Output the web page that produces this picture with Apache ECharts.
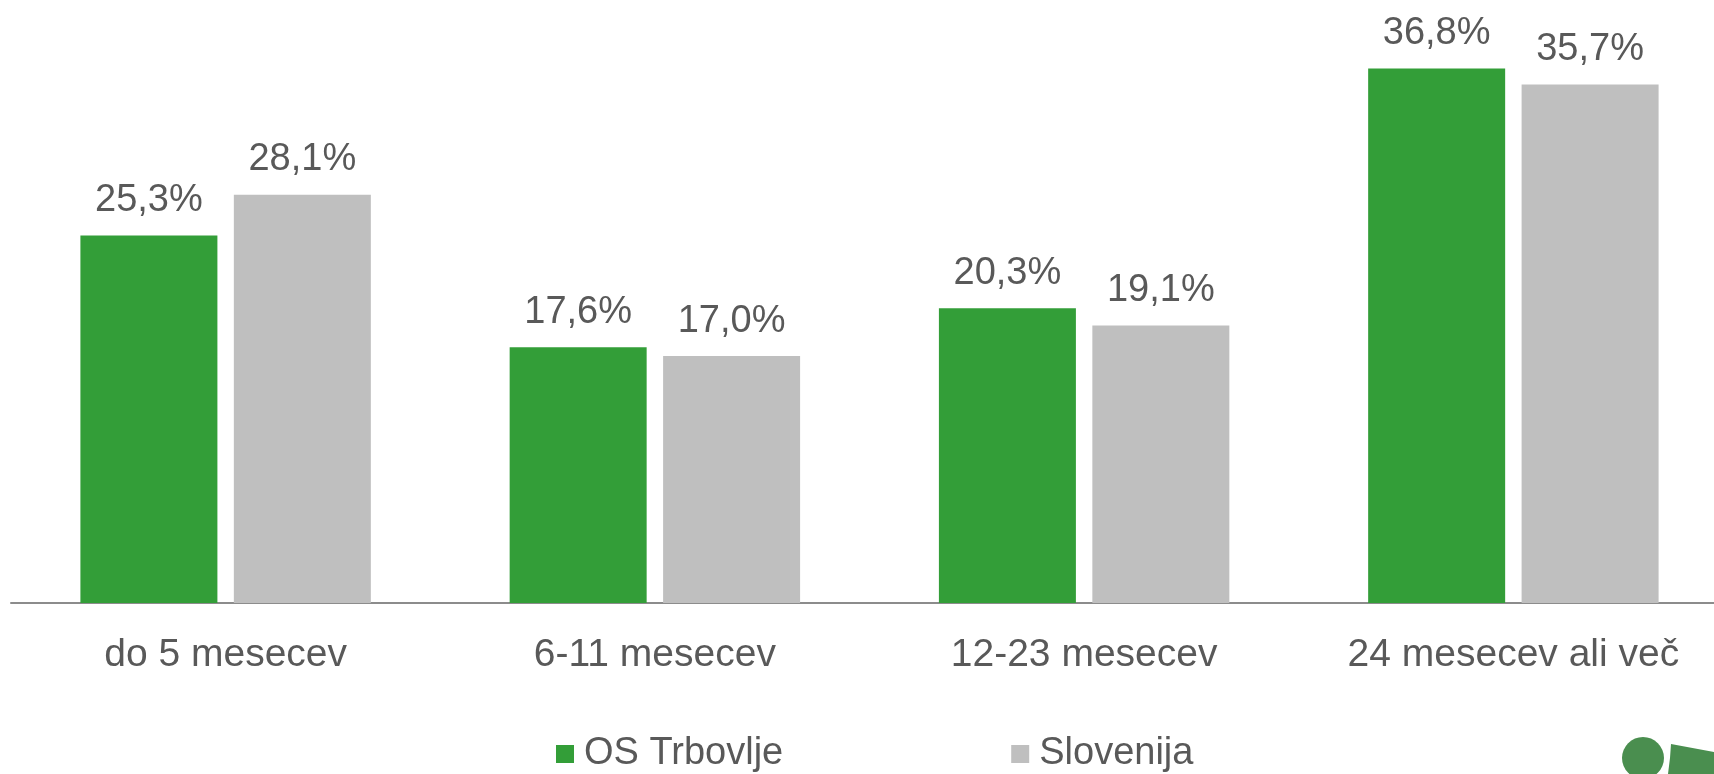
<!DOCTYPE html>
<html>
<head>
<meta charset="utf-8">
<script src="https://cdn.jsdelivr.net/npm/echarts@6/dist/echarts.min.js"></script>
<style>
  html, body { margin: 0; padding: 0; background: #fff; }
  #chart { width: 1714px; height: 774px; }
</style>
</head>
<body>
<div id="chart"></div>
<script>
// kategorije (trajanje brezposelnosti)
var categories = ['do 5 mesecev', '6-11 mesecev', '12-23 mesecev', '24 mesecev ali več'];
// deleži v %
var trbovljeData = [25.3, 17.6, 20.3, 36.8];
var slovenijaData = [28.1, 17.0, 19.1, 35.7];
var seriesNames = ['OS Trbovlje', 'Slovenija'];

var textColor = '#595959';
var fontFamily = '"Liberation Sans", Arial, sans-serif';

var chart = echarts.init(document.getElementById('chart'));

// oznaka nad stolpcem, z decimalno vejico
function pctLabel(params) {
  return params.value.toFixed(1).replace('.', ',') + '%';
}

chart.setOption({
  animation: false,
  textStyle: { fontFamily: fontFamily },
  legend: {
    data: seriesNames,
    left: 551,
    top: 730,
    itemWidth: 18,
    itemHeight: 18,
    itemGap: 228,
    icon: 'rect',
    textStyle: { fontSize: 38, color: textColor, fontFamily: fontFamily, padding: [0, 0, 0, 5] }
  },
  //rob risalne površine (desni del je odrezan)
  grid: {
    left: 11,
    width: 1717,
    top: 22,
    bottom: 171,
    containLabel: false,
    outerBoundsMode: 'none'
  },
  xAxis: {
    type: 'category',
    data: categories,
    axisLine: { lineStyle: { color: '#8c8c8c', width: 2 } },
    axisTick: { show: false },
    axisLabel: {
      interval: 0,
      hideOverlap: false,
      margin: 33,
      fontSize: 39,
      color: textColor,
      fontFamily: fontFamily
    }
  },
  yAxis: {
    type: 'value',
    min: 0,
    max: 40,
    show: false,
    splitLine: { show: false }
  },
  series: [
    {
      name: seriesNames[0],
      type: 'bar',
      data: trbovljeData,
      barWidth: 137,
      barGap: '12%',
      itemStyle: { color: '#339e38' },
      label: {
        show: true,
        position: 'top',
        distance: 16,
        fontSize: 38,
        color: textColor,
        fontFamily: fontFamily,
        formatter: pctLabel
      }
    },
    {
      name: seriesNames[1],
      type: 'bar',
      data: slovenijaData,
      barWidth: 137,
      barGap: '12%',
      itemStyle: { color: '#bfbfbf' },
      label: {
        show: true,
        position: 'top',
        distance: 16,
        fontSize: 38,
        color: textColor,
        fontFamily: fontFamily,
        formatter: pctLabel
      }
    }
  ],
  // logotip spodaj desno (odrezan)
  graphic: [
    {
      type: 'circle',
      shape: { cx: 1643, cy: 758, r: 21 },
      style: { fill: '#4a8e4f' }
    },
    {
      type: 'polygon',
      shape: { points: [[1671, 744], [1714, 752], [1714, 774], [1668, 774], [1670, 758]] },
      style: { fill: '#4a8e4f' }
    }
  ]
});
</script>
</body>
</html>
